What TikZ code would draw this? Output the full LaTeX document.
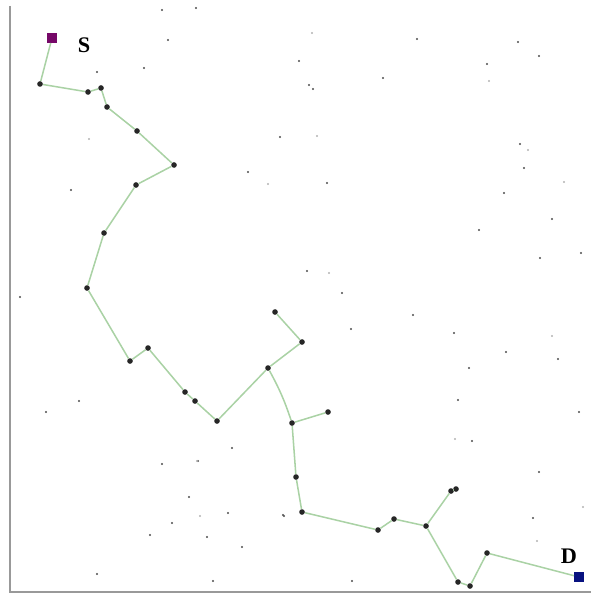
\documentclass[tikz,border=0pt]{standalone}
\usepackage{fontspec}
\setmainfont{Liberation Serif}
\usepackage{xcolor}
\usetikzlibrary{positioning}

\definecolor{linkgreen}{RGB}{170,210,165}
\definecolor{srcpurple}{RGB}{118,8,104}
\definecolor{dstblue}{RGB}{8,18,128}

\begin{document}
\begin{tikzpicture}[x=0.03cm,y=-0.03cm,
  hop/.style={circle,fill=black!85,inner sep=0pt,minimum size=4.8pt},
  link/.style={draw=linkgreen,line width=1.3pt},
  term/.style={rectangle,inner sep=0pt,minimum size=8.2pt},
  lbl/.style={font=\fontsize{19}{19}\selectfont\bfseries}]
\useasboundingbox (0,0) rectangle (591,597);

% Frame
\draw[black!40,line width=1.6pt] (10,6) -- (10,592) -- (591,592);

% Idle nodes
\foreach \x/\y in {162/10,196/8,168/40,97/72,144/68,71/190,20/297,79/401,46/412,
  417/39,299/61,309/85,313/89,383/78,518/42,539/56,487/64,280/137,248/172,327/183,
  520/144,524/168,504/193,552/219,479/230,540/258,581/253,307/271,342/293,
  351/329,232/448,198/461,162/464,189/497,228/513,172/523,150/535,207/537,242/547,
  97/574,213/581,284/516,283/515,413/315,454/333,506/352,469/368,558/359,458/400,
  579/412,472/441,539/472,533/518,352/581}
  \fill[black!70] (\x,\y) circle (0.9pt);
\foreach \x/\y in {312/33,489/81,317/136,268/184,528/150,564/182,329/273,89/139,
  197/461,200/516,552/336,455/439,583/507,537/541}
  \fill[black!30] (\x,\y) circle (0.9pt);

% Route
\node[term,fill=srcpurple] (src) at (52,38) {};
\node[term,fill=dstblue] (dst) at (579,577) {};
\node[lbl] (slbl) at (84,45) {S};
\node[lbl] (dlbl) at (569,556) {D};

\node[hop] (h1) at (40,84) {};
\node[hop] (h2) at (88,92) {};
\node[hop] (h3) at (101,88) {};
\node[hop] (h4) at (107,107) {};
\node[hop] (h5) at (137,131) {};
\node[hop] (h6) at (174,165) {};
\node[hop] (h7) at (136,185) {};
\node[hop] (h8) at (104,233) {};
\node[hop] (h9) at (87,288) {};
\node[hop] (h10) at (130,361) {};
\node[hop] (h11) at (148,348) {};
\node[hop] (h12) at (185,392) {};
\node[hop] (h13) at (195,401) {};
\node[hop] (h14) at (217,421) {};
\node[hop] (h15) at (268,368) {};
\node[hop] (h16) at (302,342) {};
\node[hop] (h17) at (275,312) {};
\node[hop] (h18) at (292,423) {};
\node[hop] (h19) at (328,412) {};
\node[hop] (h20) at (296,477) {};
\node[hop] (h21) at (302,512) {};
\node[hop] (h22) at (378,530) {};
\node[hop] (h23) at (394,519) {};
\node[hop] (h24) at (426,526) {};
\node[hop] (h25) at (451,491) {};
\node[hop] (h26) at (456,489) {};
\node[hop] (h27) at (458,582) {};
\node[hop] (h28) at (470,586) {};
\node[hop] (h29) at (487,553) {};

\draw[link] (src) -- (h1) -- (h2) -- (h3) -- (h4) -- (h5) -- (h6) -- (h7) -- (h8)
  -- (h9) -- (h10) -- (h11) -- (h12) -- (h13) -- (h14) -- (h15) -- (h16) -- (h17);
\draw[link] (h15) to[bend left=5] (h18);
\draw[link] (h18) -- (h19);
\draw[link] (h18) -- (h20) -- (h21) -- (h22) -- (h23) -- (h24) -- (h25) -- (h26);
\draw[link] (h24) -- (h27) -- (h28) -- (h29) -- (dst);
\end{tikzpicture}
\end{document}
